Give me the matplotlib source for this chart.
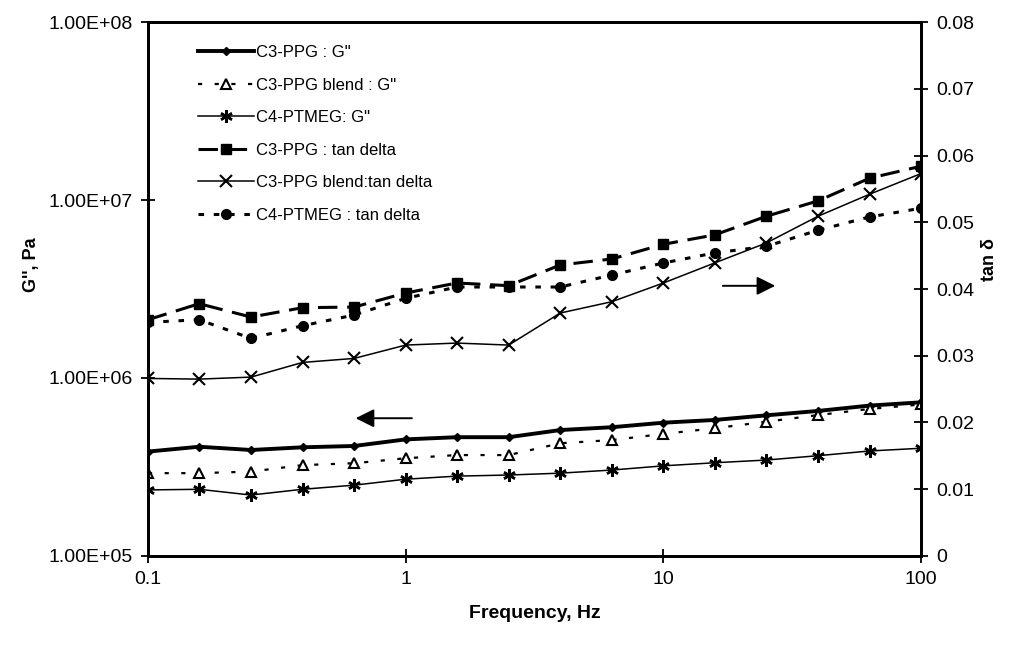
import matplotlib
matplotlib.use("Agg")
import matplotlib.pyplot as plt
from matplotlib.ticker import FuncFormatter, FixedLocator, NullLocator

plt.rcParams['font.family'] = ['Liberation Sans', 'DejaVu Sans']
plt.rcParams['lines.scale_dashes'] = False

# frequency sweep, Hz
freq = [0.1, 0.158, 0.251, 0.398, 0.631, 1.0, 1.58, 2.51, 3.98, 6.31,
        10.0, 15.8, 25.1, 39.8, 63.1, 100.0]

# loss modulus G'', Pa
c3_g = [3.86e5, 4.11e5, 3.94e5, 4.08e5, 4.15e5, 4.52e5, 4.65e5, 4.65e5,
        5.10e5, 5.29e5, 5.61e5, 5.81e5, 6.17e5, 6.53e5, 7.00e5, 7.30e5]
blend_g = [2.92e5, 2.92e5, 2.98e5, 3.24e5, 3.32e5, 3.54e5, 3.69e5, 3.69e5,
           4.30e5, 4.48e5, 4.85e5, 5.22e5, 5.68e5, 6.19e5, 6.70e5, 7.10e5]
c4_g = [2.35e5, 2.37e5, 2.20e5, 2.37e5, 2.50e5, 2.70e5, 2.81e5, 2.85e5,
        2.92e5, 3.04e5, 3.21e5, 3.34e5, 3.46e5, 3.66e5, 3.89e5, 4.03e5]

# tan delta
c3_tan = [0.0354, 0.0378, 0.0358, 0.0372, 0.0373, 0.0394, 0.0409, 0.0405,
          0.0436, 0.0445, 0.0467, 0.0481, 0.0509, 0.0532, 0.0566, 0.0584]
blend_tan = [0.0266, 0.0265, 0.0268, 0.0290, 0.0296, 0.0316, 0.0319, 0.0316,
             0.0364, 0.0381, 0.0409, 0.0439, 0.0469, 0.0509, 0.0542, 0.0573]
c4_tan = [0.0350, 0.0354, 0.0326, 0.0345, 0.0361, 0.0386, 0.0403, 0.0403,
          0.0403, 0.0421, 0.0439, 0.0454, 0.0464, 0.0488, 0.0508, 0.0521]

labels = ['C3-PPG : G"', 'C3-PPG blend : G"', 'C4-PTMEG: G"',
          'C3-PPG : tan delta', 'C3-PPG blend:tan delta', 'C4-PTMEG : tan delta']

fig = plt.figure(figsize=(10.24, 6.48), dpi=100)
ax = fig.add_axes([0.1445, 0.142, 0.755, 0.824])
ax2 = ax.twinx()

h1, = ax.plot(freq, c3_g, color='black', lw=2.8, marker='D', ms=4, label=labels[0])
h2, = ax.plot(freq, blend_g, color='black', lw=1.6, dashes=(3, 9), marker='^',
              ms=7, mfc='white', mew=1.5, label=labels[1])
h3, = ax.plot(freq, c4_g, color='black', lw=1.1, marker=(6, 2, 0), ms=9,
              mew=1.8, label=labels[2])
h4, = ax2.plot(freq, c3_tan, color='black', lw=2.2, dashes=(14, 7), marker='s',
               ms=6.5, label=labels[3])
h5, = ax2.plot(freq, blend_tan, color='black', lw=1.1, marker='x', ms=9,
               mew=1.5, label=labels[4])
h6, = ax2.plot(freq, c4_tan, color='black', lw=2.2, dashes=(4, 7), marker='o',
               ms=7, label=labels[5])

ax.set_xscale('log')
ax.set_yscale('log')
ax.set_xlim(0.1, 100)
ax.set_ylim(1e5, 1e8)
ax2.set_ylim(0, 0.08)

ax.xaxis.set_major_locator(FixedLocator([0.1, 1, 10, 100]))
ax.xaxis.set_minor_locator(NullLocator())
ax.xaxis.set_major_formatter(FuncFormatter(lambda v, p: f"{v:g}"))
ax.yaxis.set_major_locator(FixedLocator([1e5, 1e6, 1e7, 1e8]))
ax.yaxis.set_minor_locator(NullLocator())
ax.yaxis.set_major_formatter(FuncFormatter(lambda v, p: f"{v:.2E}"))
ax2.yaxis.set_major_locator(FixedLocator([i / 100 for i in range(9)]))
ax2.yaxis.set_major_formatter(FuncFormatter(lambda v, p: f"{v:g}"))

ax.tick_params(axis='both', direction='inout', length=10, width=1.3,
               labelsize=14, pad=6)
ax2.tick_params(axis='y', direction='inout', length=10, width=1.3,
                labelsize=14, pad=6)
for a in (ax, ax2):
    for s in a.spines.values():
        s.set_linewidth(2)

ax.set_xlabel('Frequency, Hz', fontsize=14, fontweight='bold', labelpad=12)
ax.set_ylabel("G'', Pa", fontsize=13, fontweight='bold')
ax2.set_ylabel('tan δ', fontsize=13, fontweight='bold')
ax.yaxis.set_label_coords(-0.14, 0.545)
ax2.yaxis.set_label_coords(1.077, 0.555)

ax2.legend(handles=[h1, h2, h3, h4, h5, h6], loc='upper left',
           bbox_to_anchor=(0.045, 0.985), frameon=False, fontsize=12,
           handlelength=3.4, handletextpad=0.1, labelspacing=1.05)

# direction arrows
ax.annotate('', xy=(0.265, 0.258), xytext=(0.345, 0.258),
            xycoords='axes fraction',
            arrowprops=dict(arrowstyle='-|>', mutation_scale=28, lw=1.4,
                            color='black'))
ax.annotate('', xy=(0.815, 0.506), xytext=(0.740, 0.506),
            xycoords='axes fraction',
            arrowprops=dict(arrowstyle='-|>', mutation_scale=28, lw=1.4,
                            color='black'))

fig.savefig('out.png', dpi=100)
